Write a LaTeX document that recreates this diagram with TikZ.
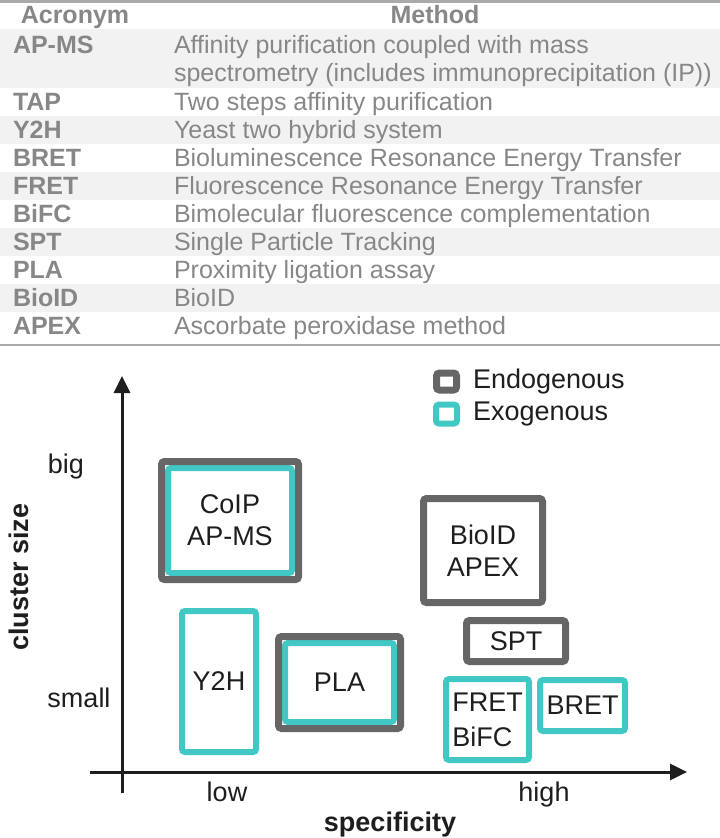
\documentclass[tikz,border=0pt]{standalone}
\usepackage{fontspec}
\setmainfont{Liberation Sans}
\usetikzlibrary{arrows.meta, positioning, fit}
\definecolor{colEndo}{RGB}{102,102,102}
\definecolor{colExo}{RGB}{66,200,196}
\definecolor{colTab}{RGB}{135,135,135}
\definecolor{colRow}{RGB}{242,242,242}
\definecolor{colRule}{RGB}{170,170,170}
\definecolor{colAxis}{RGB}{30,30,30}

\begin{document}
\begin{tikzpicture}[x=1bp, y=-1bp,
    every node/.style={font=\fontsize{27bp}{32bp}\selectfont, inner sep=0pt, outer sep=0pt, text=colAxis},
    endo/.style={draw=colEndo, line width=7bp, rounded corners=3bp, align=center},
    exo/.style={draw=colExo, line width=6bp, rounded corners=3bp, align=center},
    tab/.style={text=colTab, anchor=base west, font=\fontsize{25bp}{28bp}\selectfont},
    tabhead/.style={tab, font=\fontsize{25bp}{28bp}\selectfont\bfseries},
    axislbl/.style={anchor=base, font=\fontsize{27bp}{32bp}\selectfont\bfseries}]
    \useasboundingbox (0,0) rectangle (720,838);

    % table: shaded rows and rules
    \fill[colRow] (0,29) rectangle (720,88);
    \foreach \y in {116,172,228,284}
        \fill[colRow] (0,\y) rectangle (720,\y+28);
    \draw[colRule, line width=2bp] (0,1.5) -- (720,1.5);
    \draw[colRule, line width=2bp] (0,345) -- (720,345);

    % table: header
    \node[tabhead, anchor=base] (hAcr) at (75,23.5) {Acronym};
    \node[tabhead, anchor=base] (hMeth) at (435,23.5) {Method};

    % table: AP-MS spans two lines
    \node[tabhead] (acr-0) at (13,53.5) {AP-MS};
    \node[tab] (meth-0a) at (174,53.5) {Affinity purification coupled with mass};
    \node[tab] (meth-0b) at (174,81.5) {spectrometry (includes immunoprecipitation (IP))};

    % table: one-line rows
    \foreach \acr/\meth [count=\i] in {
        TAP/Two steps affinity purification,
        Y2H/Yeast two hybrid system,
        BRET/Bioluminescence Resonance Energy Transfer,
        FRET/Fluorescence Resonance Energy Transfer,
        BiFC/Bimolecular fluorescence complementation,
        SPT/Single Particle Tracking,
        PLA/Proximity ligation assay,
        BioID/BioID,
        APEX/Ascorbate peroxidase method} {
        \node[tabhead] (acr-\i) at (13,82.5+28*\i) {\acr};
        \node[tab] (meth-\i) at (174,82.5+28*\i) {\meth};
    }

    % axes
    \coordinate (yBot) at (122,793);
    \coordinate (yTop) at (122,376);
    \coordinate (xLeft) at (90,772);
    \coordinate (xRight) at (687,772);
    \draw[colAxis, line width=3bp, -{Triangle[length=17bp, width=16bp]}] (yBot) -- (yTop);
    \draw[colAxis, line width=3bp, -{Triangle[length=17bp, width=16bp]}] (xLeft) -- (xRight);

    \node[anchor=base] (lblBig) at (66,473) {big};
    \node[anchor=base] (lblSmall) at (79,707) {small};
    \node[anchor=base] (lblLow) at (227,801) {low};
    \node[anchor=base] (lblHigh) at (544,801) {high};
    \node[axislbl] (lblSpec) at (390,831) {specificity};
    \node[axislbl, rotate=90] (lblCluster) at (28,577) {cluster size};

    % legend
    \node[endo, minimum width=20bp, minimum height=17bp] (legEndo) at (446.5,381.5) {};
    \node[exo, minimum width=21bp, minimum height=19bp] (legExo) at (446.5,414) {};
    \node[right=16.5bp of legEndo] (legEndoTxt) {Endogenous};
    \node[right=16bp of legExo] (legExoTxt) {Exogenous};

    % methods
    \node[exo, minimum width=124bp, minimum height=105bp] (coip) at (230,520.5) {CoIP\\AP-MS};
    \node[endo, fit=(coip), inner sep=6.5bp] (coipOut) {};
    \node[exo, minimum width=74bp, minimum height=141bp] (y2h) at (219,681.5) {Y2H};
    \node[exo, minimum width=109bp, minimum height=79bp] (pla) at (339.5,682.5) {PLA};
    \node[endo, fit=(pla), inner sep=6.5bp] (plaOut) {};
    \node[endo, minimum width=119bp, minimum height=104bp] (bioid) at (483,550.5) {BioID\\APEX};
    \node[endo, minimum width=99bp, minimum height=41bp] (spt) at (516,641) {SPT};
    \node[exo, minimum width=83bp, minimum height=81bp, align=left,
        font=\fontsize{27bp}{35bp}\selectfont] (fret) at (487.5,719.5) {FRET\\BiFC};
    \node[exo, minimum width=85bp, minimum height=51bp] (bret) at (582.5,705.5) {BRET};
\end{tikzpicture}
\end{document}
